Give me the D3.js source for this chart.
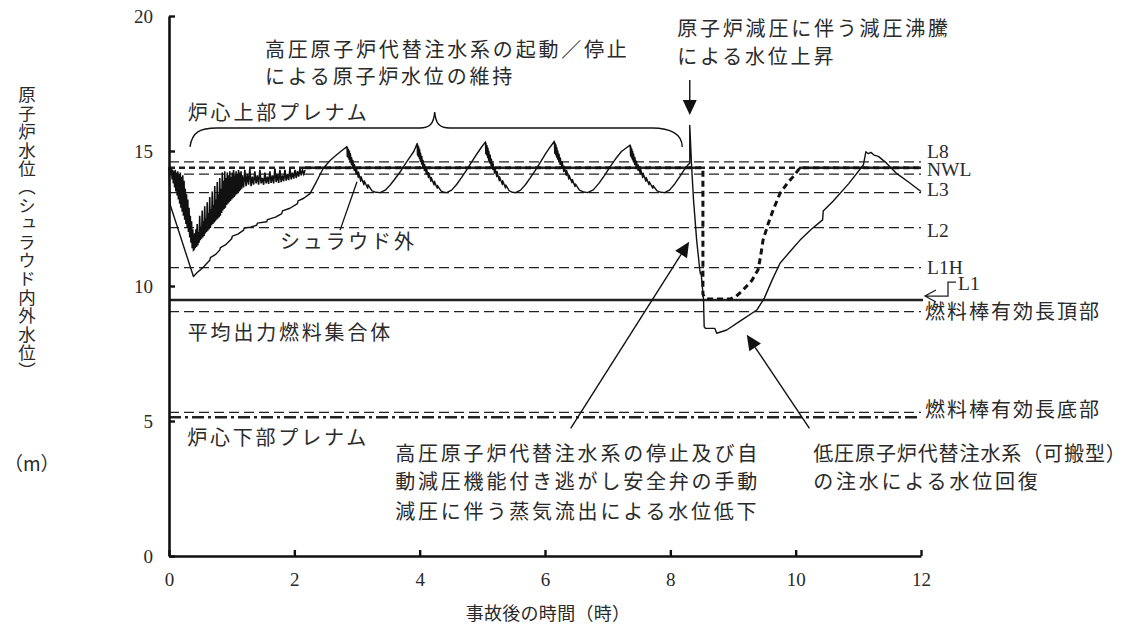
<!DOCTYPE html>
<html><head><meta charset="utf-8">
<script src="https://cdn.jsdelivr.net/npm/d3@7"></script>
<style>
html,body{margin:0;padding:0;background:#fff;}
svg{display:block;}
.jp{font-family:"Noto Sans CJK JP","Noto Sans",sans-serif;fill:#2a2a2a;}
.lat{font-family:"Liberation Serif","DejaVu Serif",serif;fill:#2a2a2a;}
</style></head>
<body>
<script>
// ---------------- DATA ----------------
const xTicks = [0,2,4,6,8,10,12];
const yTicks = [0,5,10,15,20];
const xTitle = "事故後の時間（時）";
const yTitle = "原子炉水位（シュラウド内外水位）";
const yUnit = "（m）";

// reference levels (m)
const refNames  = ["L8","NWL","","L3","L2","L1H","L1","燃料棒有効長頂部","燃料棒有効長底部",""];
const refValues = [14.60,14.38,14.14,13.46,12.16,10.68,9.48,9.05,5.32,5.14];

// shroud inside water level: oscillating part (0 - 2.17 h)
const shroudInNoisy = [
[0.00,14.40],[0.01,14.30],[0.02,14.35],[0.03,14.10],[0.04,14.35],[0.05,13.95],[0.06,14.30],[0.07,13.80],[0.08,14.25],[0.09,13.65],
[0.10,14.30],[0.11,13.50],[0.12,14.20],[0.13,13.35],[0.14,14.25],[0.15,13.20],[0.16,14.15],[0.17,13.05],[0.18,14.20],[0.19,12.90],
[0.20,14.05],[0.21,12.75],[0.22,14.10],[0.23,12.60],[0.24,13.90],[0.25,12.45],[0.26,13.60],[0.27,12.30],[0.28,13.40],[0.29,12.15],
[0.30,13.20],[0.31,12.00],[0.32,12.90],[0.33,11.80],[0.34,12.60],[0.35,11.60],[0.36,12.40],[0.37,11.40],[0.38,12.10],[0.39,11.33],
[0.40,11.35],[0.41,11.95],[0.42,11.40],[0.43,12.10],[0.44,11.45],[0.45,12.30],[0.46,11.50],[0.47,12.00],[0.48,11.60],[0.49,12.60],
[0.50,11.70],[0.51,12.20],[0.52,11.75],[0.53,12.80],[0.54,11.80],[0.55,12.40],[0.56,11.85],[0.57,12.95],[0.58,11.95],[0.59,12.50],
[0.60,12.00],[0.61,13.10],[0.62,12.05],[0.63,12.70],[0.64,12.10],[0.65,13.30],[0.66,12.15],[0.67,12.85],[0.68,12.25],[0.69,13.50],
[0.70,12.30],[0.71,13.00],[0.72,12.35],[0.73,13.70],[0.74,12.40],[0.75,13.20],[0.76,12.45],[0.77,13.85],[0.78,12.50],[0.79,13.40],
[0.80,12.55],[0.81,14.00],[0.82,12.60],[0.83,13.60],[0.84,12.70],[0.85,14.20],[0.86,12.80],[0.87,13.90],[0.88,12.85],[0.89,14.25],
[0.90,12.90],[0.91,14.00],[0.92,13.00],[0.93,14.20],[0.94,13.05],[0.95,14.10],[0.96,13.10],[0.97,14.25],[0.98,13.15],[0.99,14.05],
[1.00,13.20],[1.01,14.20],[1.02,13.25],[1.03,14.30],[1.04,13.30],[1.05,14.10],[1.06,13.35],[1.07,14.25],[1.08,13.40],[1.09,14.15],
[1.10,13.45],[1.11,14.30],[1.12,13.50],[1.13,14.20],[1.14,13.55],[1.15,14.25],[1.16,13.60],[1.17,14.10],[1.19,13.65],[1.21,14.30],
[1.23,13.70],[1.25,14.15],[1.27,13.75],[1.29,14.35],[1.31,13.70],[1.33,14.05],[1.35,13.75],[1.37,14.25],[1.39,13.80],[1.41,14.10],
[1.43,13.75],[1.45,14.30],[1.47,13.80],[1.49,14.00],[1.51,13.75],[1.53,14.20],[1.55,13.80],[1.57,14.05],[1.59,13.78],[1.61,14.25],
[1.63,13.82],[1.65,14.10],[1.67,13.80],[1.69,14.35],[1.71,13.85],[1.73,14.15],[1.75,13.82],[1.77,14.30],[1.79,13.85],[1.81,14.10],
[1.83,13.88],[1.85,14.30],[1.87,13.90],[1.89,14.15],[1.91,13.92],[1.93,14.35],[1.95,13.95],[1.97,14.20],[1.99,13.98],[2.01,14.30],
[2.03,14.00],[2.05,14.25],[2.07,14.05],[2.09,14.35],[2.11,14.10],[2.13,14.30],[2.15,14.15],[2.17,14.30]
];

// shroud inside water level after oscillation (thick dashed)
const shroudInLater = [
[2.17,14.38],[8.50,14.38],[8.52,14.30],[8.52,9.70],[8.55,9.56],[8.60,9.52],[8.96,9.52],[9.05,9.62],[9.16,9.85],
[9.30,10.20],[9.40,10.60],[9.44,11.10],[9.48,11.70],[9.56,12.30],[9.64,12.81],[9.75,13.43],[9.86,13.78],
[9.96,14.05],[10.07,14.38],[12.00,14.38]
];

// shroud outside water level (thin solid)
const shroudOut = [
[0.00,14.40],[0.02,13.00],[0.39,10.35],[0.45,10.50],[0.55,10.70],[0.65,10.95],[0.66,11.05],[0.75,11.18],[0.81,11.33],[0.82,11.42],
[0.90,11.52],[1.00,11.75],[1.01,11.85],[1.10,11.92],[1.19,12.07],[1.20,12.15],[1.30,12.18],[1.40,12.25],[1.41,12.33],[1.56,12.38],
[1.57,12.46],[1.70,12.55],[1.80,12.68],[1.81,12.78],[1.93,12.88],[2.05,13.05],[2.06,13.15],[2.15,13.25],[2.25,13.42],[2.35,13.85],
[2.46,14.35],[2.57,14.65],[2.68,14.87],[2.76,15.02],[2.84,15.16],
[2.845,14.80],[2.85,15.12],[2.86,14.75],[2.865,15.05],[2.875,14.68],[2.88,14.98],[2.89,14.60],[2.895,14.90],[2.91,14.50],[2.915,14.75],
[2.93,14.40],[2.935,14.65],[2.955,14.28],[2.96,14.50],[2.985,14.15],[2.99,14.35],[3.02,14.02],[3.025,14.22],[3.06,13.88],[3.065,14.05],
[3.11,13.75],[3.115,13.90],[3.17,13.62],[3.175,13.75],[3.24,13.52],[3.30,13.47],[3.37,13.46],
[3.45,13.55],[3.53,13.74],[3.61,13.98],[3.69,14.23],[3.77,14.52],[3.85,14.79],[3.91,15.00],[3.96,15.28],
[3.965,14.85],[3.97,15.22],[3.98,14.80],[3.985,15.15],[3.995,14.72],[4.00,15.05],[4.01,14.62],[4.015,14.92],[4.03,14.52],[4.035,14.80],
[4.05,14.40],[4.055,14.65],[4.075,14.28],[4.08,14.50],[4.105,14.15],[4.11,14.35],[4.14,14.02],[4.145,14.20],[4.18,13.88],[4.185,14.02],
[4.23,13.74],[4.235,13.88],[4.28,13.62],[4.285,13.72],[4.34,13.52],[4.39,13.47],[4.43,13.46],
[4.51,13.55],[4.59,13.76],[4.67,14.02],[4.75,14.30],[4.83,14.60],[4.91,14.88],[4.98,15.12],[5.05,15.34],
[5.055,14.90],[5.06,15.28],[5.07,14.85],[5.075,15.20],[5.085,14.76],[5.09,15.10],[5.10,14.66],[5.105,14.98],[5.12,14.55],[5.125,14.85],
[5.14,14.44],[5.145,14.70],[5.165,14.32],[5.17,14.55],[5.195,14.18],[5.20,14.38],[5.23,14.05],[5.235,14.24],[5.27,13.90],[5.275,14.05],
[5.32,13.76],[5.325,13.90],[5.37,13.63],[5.375,13.74],[5.43,13.52],[5.48,13.47],[5.53,13.46],
[5.61,13.55],[5.69,13.76],[5.77,14.02],[5.85,14.30],[5.93,14.60],[6.01,14.90],[6.08,15.14],[6.15,15.36],
[6.155,14.92],[6.16,15.30],[6.17,14.86],[6.175,15.22],[6.185,14.78],[6.19,15.12],[6.20,14.70],[6.205,15.00],[6.22,14.60],[6.225,14.88],
[6.24,14.50],[6.245,14.74],[6.27,14.38],[6.275,14.60],[6.30,14.24],[6.305,14.44],[6.34,14.10],[6.345,14.28],[6.38,13.96],[6.385,14.10],
[6.43,13.82],[6.435,13.95],[6.48,13.68],[6.485,13.78],[6.55,13.55],[6.62,13.48],[6.68,13.46],
[6.77,13.56],[6.86,13.80],[6.95,14.10],[7.04,14.42],[7.13,14.72],[7.22,14.98],[7.30,15.12],[7.36,15.22],
[7.365,14.82],[7.37,15.16],[7.38,14.76],[7.385,15.08],[7.395,14.68],[7.40,14.98],[7.41,14.60],[7.415,14.88],[7.43,14.50],[7.435,14.76],
[7.455,14.40],[7.46,14.62],[7.485,14.28],[7.49,14.48],[7.52,14.15],[7.525,14.34],[7.56,14.02],[7.565,14.18],[7.61,13.88],[7.615,14.02],
[7.66,13.75],[7.665,13.86],[7.72,13.62],[7.725,13.72],[7.79,13.52],[7.85,13.47],[7.91,13.46],
[7.99,13.56],[8.07,13.78],[8.15,14.05],[8.22,14.30],[8.28,14.48],[8.31,14.55],[8.31,15.95],[8.34,14.42],[8.37,13.19],[8.42,11.70],
[8.47,10.60],[8.48,10.45],[8.49,10.50],[8.53,9.48],[8.54,8.49],[8.56,8.43],[8.71,8.43],[8.74,8.25],[8.90,8.37],[9.10,8.68],
[9.38,9.11],[9.50,9.55],[9.62,10.20],[9.75,10.84],[9.90,11.25],[10.07,11.70],[10.25,12.10],[10.43,12.45],[10.44,12.78],[10.60,13.15],
[10.85,13.80],[11.08,14.48],[11.12,14.97],[11.16,14.90],[11.20,14.95],[11.25,14.85],[11.32,14.80],[11.45,14.55],[11.61,14.17],[11.80,13.85],
[12.00,13.50]
];

// annotation texts: [text, t, value] (left edge, vertical centre)
const notes = [
["高圧原子炉代替注水系の起動／停止",1.53,18.81],
["による原子炉水位の維持",1.53,17.78],
["原子炉減圧に伴う減圧沸騰",8.11,19.59],
["による水位上昇",8.11,18.52],
["炉心上部プレナム",0.30,16.48],
["シュラウド外",1.77,11.67],
["平均出力燃料集合体",0.30,8.30],
["炉心下部プレナム",0.29,4.44],
["高圧原子炉代替注水系の停止及び自",3.61,3.85],
["動減圧機能付き逃がし安全弁の手動",3.61,2.78],
["減圧に伴う蒸気流出による水位低下",3.61,1.70],
["低圧原子炉代替注水系（可搬型）",10.28,3.85],
["の注水による水位回復",10.28,2.78]
];
// arrows [fromT, fromV, toT, toV]
const arrows = [
[8.31,17.63,8.31,16.33],
[6.41,4.73,8.30,11.64],
[10.22,4.73,9.22,8.19]
];
const leader = [2.73,12.07,3.00,13.86];
// brace over upper plenum: start, tip, end (h); bar, tip, end level (m)
const braceT = [0.335,4.24,8.19];
const braceV = [15.85,16.44,15.15];

// ---------------- CHART ----------------
const W=1135,H=633;
const svg=d3.select("body").append("svg").attr("width",W).attr("height",H);
svg.append("rect").attr("width",W).attr("height",H).attr("fill","#fff");
const x=d3.scaleLinear().domain([0,12]).range([169,921]);
const y=d3.scaleLinear().domain([0,20]).range([556,16]);
const line=d3.line().x(d=>x(d[0])).y(d=>y(d[1]));

// reference lines
const refStyle=[
 {w:1.3,dash:"10,5"},{w:2.6,dash:"6,4"},{w:1.3,dash:"10,5"},{w:1.3,dash:"10,5"},{w:1.3,dash:"10,5"},
 {w:1.3,dash:"10,5"},{w:2.6,dash:null},{w:1.3,dash:"10,5"},{w:1.3,dash:"10,5"},{w:2.4,dash:"12,4,3,4"}
];
refValues.forEach((v,i)=>{
  const l=svg.append("line").attr("x1",x(0)).attr("x2",x(12)+(i===6?2:0)).attr("y1",y(v)).attr("y2",y(v))
    .attr("stroke","#222").attr("stroke-width",refStyle[i].w);
  if(refStyle[i].dash) l.attr("stroke-dasharray",refStyle[i].dash);
});

// series
svg.append("path").datum(shroudInNoisy).attr("d",line).attr("fill","none").attr("stroke","#111").attr("stroke-width",1.6).attr("stroke-linejoin","miter");
svg.append("path").datum(shroudInLater).attr("d",line).attr("fill","none").attr("stroke","#111").attr("stroke-width",3).attr("stroke-dasharray","6,4");
svg.append("path").datum(shroudOut).attr("d",line).attr("fill","none").attr("stroke","#111").attr("stroke-width",1.4).attr("stroke-linejoin","round");

// axes
const xAxis=d3.axisBottom(x).tickValues(xTicks).tickSizeInner(-6).tickSizeOuter(0).tickPadding(17).tickFormat(d3.format("d"));
const yAxis=d3.axisLeft(y).tickValues(yTicks).tickSizeInner(-6).tickSizeOuter(0).tickPadding(16).tickFormat(d3.format("d"));
const gx=svg.append("g").attr("transform",`translate(0,${y(0)})`).call(xAxis);
const gy=svg.append("g").attr("transform",`translate(${x(0)},0)`).call(yAxis);
[gx,gy].forEach(g=>{
  g.select(".domain").attr("stroke","#111").attr("stroke-width",2.6);
  g.selectAll(".tick line").attr("stroke","#111").attr("stroke-width",2.4);
  g.selectAll(".tick text").attr("class","lat").style("font-size","19px").attr("fill","#2a2a2a")
   .style("font-family","'Liberation Serif',serif");
});

// axis titles
svg.append("text").attr("class","jp").attr("x",(x(0)+x(12))/2+3).attr("y",612).attr("text-anchor","middle")
  .attr("dominant-baseline","central").style("font-size","18px").attr("letter-spacing","0.3").text(xTitle);
svg.append("text").attr("class","jp").attr("x",27).attr("y",86)
  .style("writing-mode","vertical-rl").style("font-size","17.5px").attr("letter-spacing","0.9").text(yTitle);
svg.append("text").attr("class","jp").attr("x",4).attr("y",462).attr("dominant-baseline","central")
  .style("font-size","19px").text(yUnit);

// annotations
notes.forEach(n=>{
  const tight = n[0].indexOf("（")>=0;
  svg.append("text").attr("class","jp").attr("x",x(n[1])).attr("y",y(n[2])).attr("dominant-baseline","central")
    .style("font-size","20px").attr("letter-spacing",tight?"0.9":"2.8").text(n[0]);
});

// right-side level labels
const latinIdx=[0,1,3,4,5];
const labelPos={0:15.00,1:14.30,3:13.56,4:12.07,5:10.67};
latinIdx.forEach(i=>{
  svg.append("text").attr("class","lat").attr("x",x(12)+6).attr("y",y(labelPos[i])).attr("dominant-baseline","central")
   .style("font-size","19.5px").text(refNames[i]);
});
// L1 with open arrow
const tipX=x(12)+4, tipY=y(refValues[6])-4;
svg.append("path").attr("d",`M${tipX+11},${tipY-6}L${tipX},${tipY}L${tipX+11},${tipY+6}M${tipX},${tipY}H${tipX+23}V${tipY-14}H${tipX+31}`)
  .attr("fill","none").attr("stroke","#222").attr("stroke-width",1.3);
svg.append("text").attr("class","lat").attr("x",tipX+33).attr("y",tipY-13).attr("dominant-baseline","central")
  .style("font-size","19.5px").text(refNames[6]);
svg.append("text").attr("class","jp").attr("x",x(12)+4).attr("y",y(9.11)).attr("dominant-baseline","central")
  .style("font-size","20px").attr("letter-spacing","2").text(refNames[7]);
svg.append("text").attr("class","jp").attr("x",x(12)+4).attr("y",y(5.48)).attr("dominant-baseline","central")
  .style("font-size","20px").attr("letter-spacing","2").text(refNames[8]);

// arrows
arrows.forEach(a=>{
  const x1=x(a[0]),y1=y(a[1]),x2=x(a[2]),y2=y(a[3]);
  const dx=x2-x1,dy=y2-y1,L=Math.hypot(dx,dy),ux=dx/L,uy=dy/L;
  const hl=15,hw=7;
  const bx=x2-ux*hl,by=y2-uy*hl;
  svg.append("line").attr("x1",x1).attr("y1",y1).attr("x2",bx).attr("y2",by).attr("stroke","#111").attr("stroke-width",1.4);
  svg.append("path").attr("d",`M${x2},${y2}L${bx-uy*hw},${by+ux*hw}L${bx+uy*hw},${by-ux*hw}Z`).attr("fill","#111");
});
svg.append("line").attr("x1",x(leader[0])).attr("y1",y(leader[1])).attr("x2",x(leader[2])).attr("y2",y(leader[3]))
  .attr("stroke","#111").attr("stroke-width",1.3);

// brace
{
  const xs=x(braceT[0]),xt=x(braceT[1]),xe=x(braceT[2]);
  const yb=y(braceV[0]),yt=y(braceV[1]),ye=y(braceV[2]);
  const d=`M${xs},${ye}C${xs+2},${yb+4} ${xs+10},${yb} ${xs+27},${yb}L${xt-15},${yb}C${xt-5},${yb} ${xt-1},${yb-4} ${xt},${yt}`+
          `C${xt+1},${yb-4} ${xt+5},${yb} ${xt+15},${yb}L${xe-30},${yb}C${xe-12},${yb} ${xe},${yb+6} ${xe},${ye}`;
  svg.append("path").attr("d",d).attr("fill","none").attr("stroke","#111").attr("stroke-width",1.4);
}
</script>
</body></html>
